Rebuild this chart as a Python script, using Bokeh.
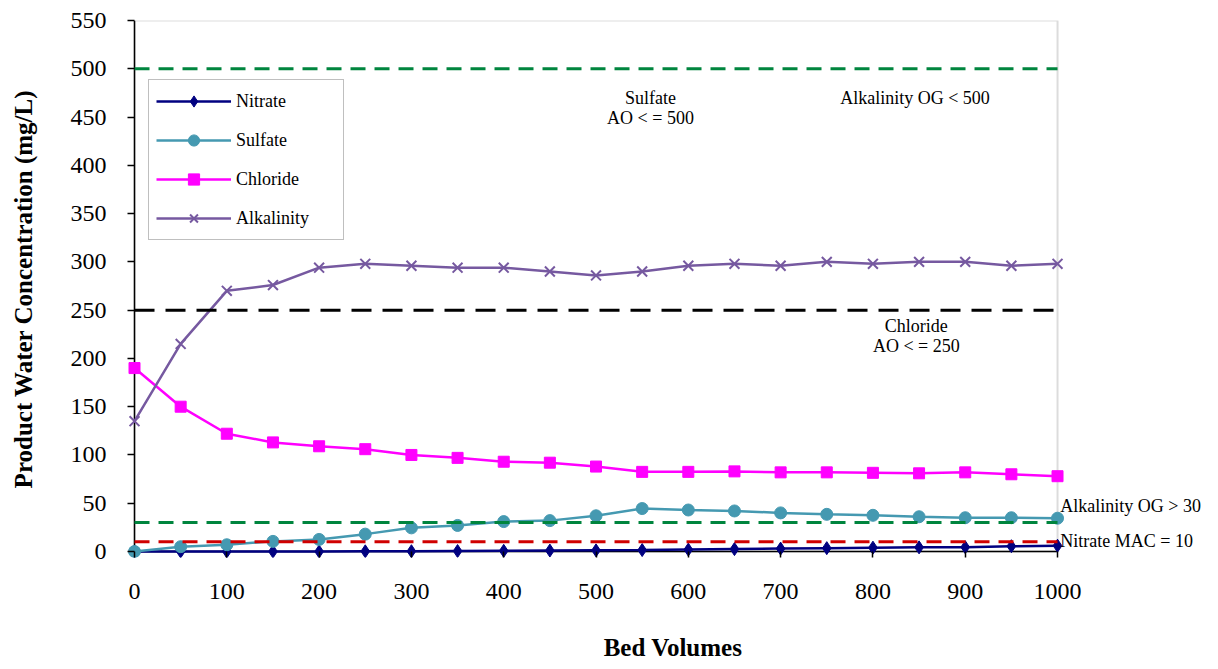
from bokeh.plotting import figure
from bokeh.models import Range1d, Label, Legend, LegendItem, SingleIntervalTicker, BoxAnnotation
from bokeh.embed import file_html
from bokeh.resources import INLINE

# Bed volumes treated
bed_volumes = [0, 50, 100, 150, 200, 250, 300, 350, 400, 450, 500,
               550, 600, 650, 700, 750, 800, 850, 900, 950, 1000]

# Product water concentrations (mg/L)
nitrate = [0, 0, 0, 0, 0, 0.2, 0.3, 0.5, 0.7, 1, 1.2,
           1.5, 2, 2.5, 3, 3.5, 4, 4.3, 4.5, 5.5, 6]
sulfate = [0, 5, 7, 10.5, 12.5, 18, 24.5, 27, 31, 32, 37,
           44.5, 43, 42, 40, 38.5, 37.5, 36, 35, 35, 34.5]
chloride = [190, 150, 122, 113, 109, 106, 100, 97, 93, 92, 88,
            82.5, 82.5, 83, 82, 82, 81.5, 81, 82, 80, 78]
alkalinity = [135, 215, 270, 276, 294, 298, 296, 294, 294, 290, 286,
              290, 296, 298, 296, 300, 298, 300, 300, 296, 298]

# Guideline levels (mg/L)
sulfate_ao = 500
alkalinity_og_max = 500
chloride_ao = 250
alkalinity_og_min = 30
nitrate_mac = 10

# Axis extents
x_min, x_max = 0, 1000
y_min, y_max = 0, 550

SERIF = "Liberation Serif"

# The frame reaches a little past the axes so that end markers and the
# right-hand captions are not cut off; the plot area itself is outlined
# with a box annotation.
p = figure(width=1218, height=669, output_backend="svg", toolbar_location=None,
           x_range=Range1d(-7.6, 1174.4), y_range=Range1d(-6.2, 550),
           min_border_left=127, min_border_right=0,
           min_border_top=20, min_border_bottom=112)

p.xgrid.visible = False
p.ygrid.visible = False
p.outline_line_color = None
p.background_fill_color = "white"
p.border_fill_color = "white"

# Axes: ticks drawn inward from the frame edge so they sit just outside the
# plot-area axis lines
p.xaxis.ticker = SingleIntervalTicker(interval=100)
p.yaxis.ticker = SingleIntervalTicker(interval=50)
p.xaxis.bounds = (x_min, x_max)
p.yaxis.bounds = (y_min, y_max)
for ax in (p.xaxis[0], p.yaxis[0]):
    ax.axis_line_color = None
    ax.major_tick_line_color = "black"
    ax.major_tick_line_width = 1.5
    ax.minor_tick_line_color = None
    ax.major_tick_out = 0
    ax.major_label_text_font = SERIF
    ax.major_label_text_font_size = "24px"
    ax.major_label_text_color = "black"
    ax.axis_label_text_font = SERIF
    ax.axis_label_text_font_style = "bold"
    ax.axis_label_text_font_size = "25px"
    ax.axis_label_text_color = "black"

p.xaxis.major_tick_in = 6
p.xaxis.major_label_standoff = 22
p.xaxis.axis_label = "Bed Volumes"
p.xaxis.axis_label_standoff = 32

p.yaxis.major_tick_in = 7
p.yaxis.major_label_standoff = 17
p.yaxis.axis_label = "Product Water Concentration (mg/L)"
p.yaxis.axis_label_standoff = 31

# Plot-area border (grey) and the two axis lines (black)
p.add_layout(BoxAnnotation(left=x_min, right=x_max, bottom=y_min, top=y_max,
                           fill_alpha=0, line_color="#8c8c8c", line_width=2,
                           level="underlay"))
p.segment(x0=[x_min, x_min], y0=[y_min, y_min], x1=[x_min, x_max], y1=[y_max, y_min],
          line_color="black", line_width=1.5)

# Data series
r_n_line = p.line(bed_volumes, nitrate, line_color="#000080", line_width=2.5)
r_n_pts = p.scatter(bed_volumes, nitrate, marker="diamond", size=13,
                    fill_color="#000080", line_color="#000080")
r_s_line = p.line(bed_volumes, sulfate, line_color="#4599B1", line_width=2.5)
r_s_pts = p.scatter(bed_volumes, sulfate, marker="circle", size=12,
                    fill_color="#4599B1", line_color="#4599B1")
r_c_line = p.line(bed_volumes, chloride, line_color="#FF00FF", line_width=2.5)
r_c_pts = p.scatter(bed_volumes, chloride, marker="square", size=11,
                    fill_color="#FF00FF", line_color="#FF00FF")
r_a_line = p.line(bed_volumes, alkalinity, line_color="#7659A0", line_width=2.5)
r_a_pts = p.scatter(bed_volumes, alkalinity, marker="x", size=14,
                    line_color="#7659A0", line_width=2)

# Guideline lines
def guideline(level, color, width=3, dash="15 9"):
    p.line([x_min, x_max], [level, level], line_color=color,
           line_width=width, line_dash=dash)

guideline(sulfate_ao, "#00853E")
guideline(chloride_ao, "black", dash="20 11")
guideline(alkalinity_og_min, "#00853E")
guideline(nitrate_mac, "#D00000")

# Guideline captions
def caption(x, y, text, align="center"):
    p.add_layout(Label(x=x, y=y, text=text, text_font=SERIF,
                       text_font_size="18px", text_color="black",
                       text_align=align, text_baseline="middle"))

caption(559, 470, "Sulfate")
caption(559, 449.5, "AO < = 500")
caption(848, 470, "Alkalinity  OG < 500")
caption(847, 234, "Chloride")
caption(847, 213, "AO < = 250")
caption(1003, 47, "Alkalinity OG > 30", align="left")
caption(1003, 10.5, "Nitrate MAC = 10", align="left")

# Legend
legend = Legend(items=[
    LegendItem(label="Nitrate", renderers=[r_n_line, r_n_pts]),
    LegendItem(label="Sulfate", renderers=[r_s_line, r_s_pts]),
    LegendItem(label="Chloride", renderers=[r_c_line, r_c_pts]),
    LegendItem(label="Alkalinity", renderers=[r_a_line, r_a_pts]),
], location=(21, 317))
legend.border_line_color = "#808080"
legend.border_line_width = 1.5
legend.background_fill_color = "white"
legend.background_fill_alpha = 1
legend.label_text_font = SERIF
legend.label_text_font_size = "18px"
legend.label_text_color = "black"
legend.padding = 7
legend.margin = 0
legend.spacing = 11
legend.glyph_height = 28
legend.glyph_width = 75
legend.label_standoff = 5
legend.label_width = 100
legend.label_height = 28
p.add_layout(legend, "center")

with open("out.html", "w") as f:
    f.write(file_html(p, INLINE))
